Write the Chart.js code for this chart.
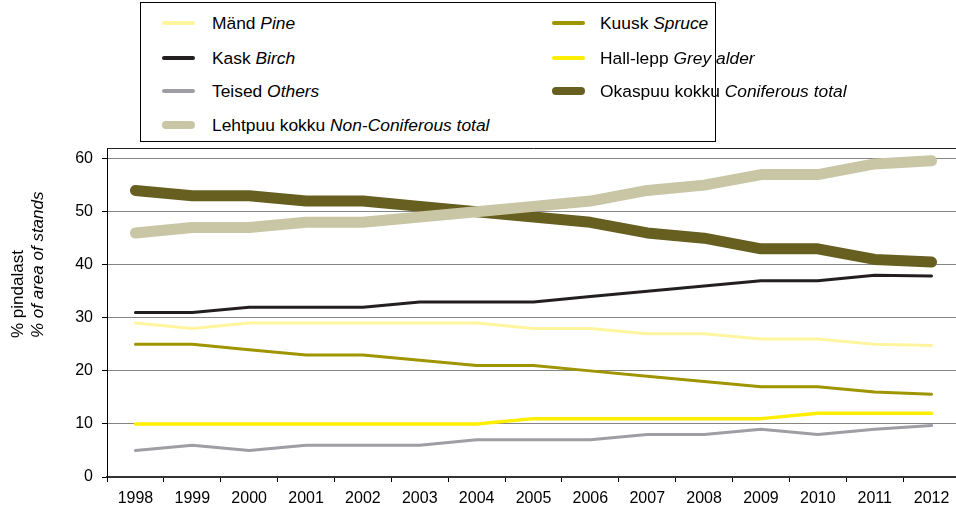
<!DOCTYPE html>
<html>
<head>
<meta charset="utf-8">
<script src="https://cdn.jsdelivr.net/npm/chart.js@4.4.1/dist/chart.umd.min.js"></script>
<style>
  html, body { margin: 0; padding: 0; background: #fff; }
  body { width: 956px; height: 510px; overflow: hidden; position: relative;
         font-family: "Liberation Sans", Arial, sans-serif; color: #000; }
  #wrap { position: absolute; left: 0; top: 0; width: 960px; height: 510px; }
  #legend { position: absolute; left: 140px; top: 2px; width: 576px; height: 140px;
            border: 1px solid #000; box-sizing: border-box; background: #fff; }
  .item { position: absolute; height: 20px; display: flex; align-items: center;
          font-size: 17.4px; white-space: nowrap; }
  .swatch { display: inline-block; width: 33px; border-radius: 5px; }
  #ytitle { position: absolute; left: 8px; top: 338px; transform: rotate(-90deg);
            transform-origin: 0 0; font-size: 17px; line-height: 20px; white-space: nowrap; }
</style>
</head>
<body>
<div id="wrap"><canvas id="chart"></canvas></div>
<div id="legend"></div>
<div id="ytitle">% pindalast<br><i>% of area of stands</i></div>
<script>
// Share of forest stand area by dominant species, %
const years = ['1998','1999','2000','2001','2002','2003','2004','2005','2006','2007','2008','2009','2010','2011','2012'];

const pine       = [29, 28, 29, 29, 29, 29, 29, 28, 28, 27, 27, 26, 26, 25, 24.8];
const spruce     = [25, 25, 24, 23, 23, 22, 21, 21, 20, 19, 18, 17, 17, 16, 15.6];
const birch      = [31, 31, 32, 32, 32, 33, 33, 33, 34, 35, 36, 37, 37, 38, 37.9];
const greyAlder  = [10, 10, 10, 10, 10, 10, 10, 11, 11, 11, 11, 11, 12, 12, 12];
const others     = [5, 6, 5, 6, 6, 6, 7, 7, 7, 8, 8, 9, 8, 9, 9.7];
const coniferous = [54, 53, 53, 52, 52, 51, 50, 49, 48, 46, 45, 43, 43, 41, 40.5];
const nonConif   = [46, 47, 47, 48, 48, 49, 50, 51, 52, 54, 55, 57, 57, 59, 59.6];

const namesEt = ['Mänd', 'Kask', 'Teised', 'Lehtpuu kokku', 'Kuusk', 'Hall-lepp', 'Okaspuu kokku'];
const namesEn = ['Pine', 'Birch', 'Others', 'Non-Coniferous total', 'Spruce', 'Grey alder', 'Coniferous total'];

const yTicks = [0, 10, 20, 30, 40, 50, 60];

// series in legend order (first column, then second column)
const series = [
  { data: pine,       color: '#FFF59E', width: 3,  legendWidth: 4, order: 6 },
  { data: birch,      color: '#231F20', width: 3,  legendWidth: 4, order: 4 },
  { data: others,     color: '#9E9EA4', width: 3,  legendWidth: 4, order: 3 },
  { data: nonConif,   color: '#C9C6A5', width: 11, legendWidth: 8, order: 0 },
  { data: spruce,     color: '#9E9500', width: 3,  legendWidth: 4, order: 5 },
  { data: greyAlder,  color: '#FFEE00', width: 3.5,legendWidth: 4, order: 2 },
  { data: coniferous, color: '#665F1F', width: 11, legendWidth: 8, order: 1 }
];

const datasets = series.map((s, i) => ({
  label: namesEt[i] + ' ' + namesEn[i],
  data: s.data,
  borderColor: s.color,
  backgroundColor: s.color,
  borderWidth: s.width,
  borderCapStyle: 'round',
  borderJoinStyle: 'round',
  pointRadius: 0,
  tension: 0,
  fill: false,
  order: s.order
}));

const tickFont = { family: '"Liberation Sans", Arial, sans-serif', size: 16 };

// top edge of the plot frame
const plotFrameTop = {
  id: 'plotFrameTop',
  beforeDatasetsDraw(c) {
    const { ctx, chartArea } = c;
    ctx.save();
    ctx.strokeStyle = '#222';
    ctx.lineWidth = 1;
    ctx.beginPath();
    ctx.moveTo(chartArea.left, chartArea.top + 0.5);
    ctx.lineTo(chartArea.right, chartArea.top + 0.5);
    ctx.stroke();
    ctx.restore();
  }
};

const chart = new Chart(document.getElementById('chart'), {
  type: 'line',
  data: { labels: years, datasets },
  plugins: [plotFrameTop],
  options: {
    responsive: true,
    maintainAspectRatio: false,
    animation: false,
    layout: { padding: { top: 148, left: 0, right: 0, bottom: 0 } },
    plugins: { legend: { display: false }, tooltip: { enabled: false } },
    scales: {
      x: {
        type: 'category',
        offset: true,
        grid: { display: true, drawOnChartArea: false, offset: true, tickLength: 5, tickColor: '#000', tickWidth: 1 },
        border: { display: true, color: '#333', width: 2 },
        ticks: { font: tickFont, color: '#000', padding: 7, maxRotation: 0, autoSkip: false },
        afterFit: (scale) => { scale.height = 33; }
      },
      y: {
        min: 0,
        max: 62,
        grid: { color: '#858585', lineWidth: 1, tickLength: 5, tickColor: '#000' },
        border: { display: true, color: '#000', width: 1 },
        ticks: { stepSize: 10, font: tickFont, color: '#000', padding: 9 },
        afterBuildTicks: (scale) => { scale.ticks = yTicks.map(v => ({ value: v })); },
        afterFit: (scale) => { scale.width = 107; }
      }
    }
  }
});

// legend: two columns, four rows
const legendEl = document.getElementById('legend');
const rowTops = [10, 45, 78, 112];
const colLefts = [21, 411];
const textGap = [17, 15];
series.forEach((s, i) => {
  const col = i < 4 ? 0 : 1;
  const row = i < 4 ? i : i - 4;
  const item = document.createElement('div');
  item.className = 'item';
  item.style.left = colLefts[col] + 'px';
  item.style.top = rowTops[row] + 'px';
  const sw = document.createElement('span');
  sw.className = 'swatch';
  sw.style.height = s.legendWidth + 'px';
  sw.style.background = s.color;
  sw.style.marginRight = textGap[col] + 'px';
  const txt = document.createElement('span');
  txt.innerHTML = namesEt[i] + ' <i>' + namesEn[i] + '</i>';
  item.appendChild(sw);
  item.appendChild(txt);
  legendEl.appendChild(item);
});
</script>
</body>
</html>
